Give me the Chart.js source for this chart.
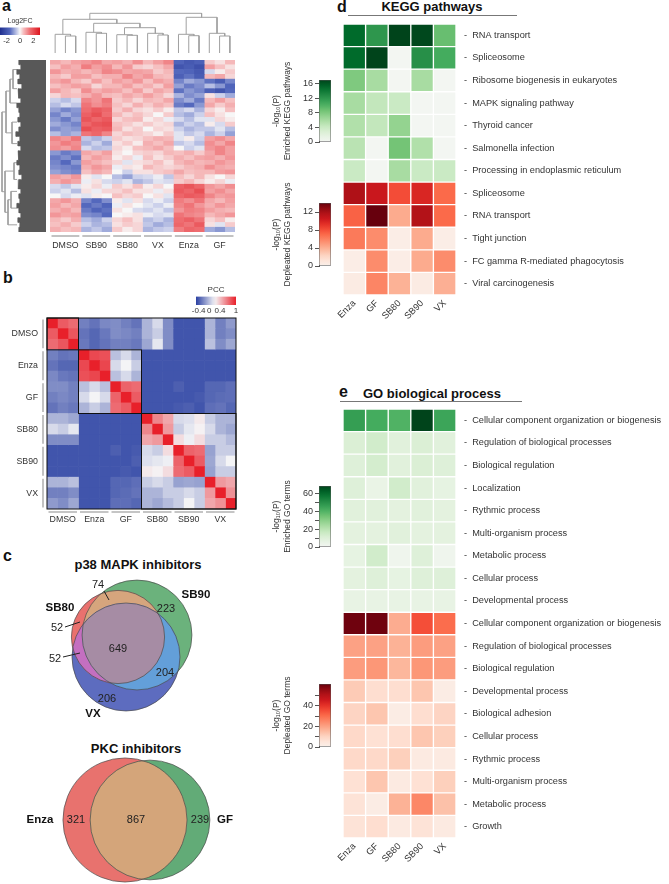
<!DOCTYPE html>
<html>
<head>
<meta charset="utf-8">
<title>Kinase inhibitor transcriptome panels</title>
<script src="https://cdn.jsdelivr.net/npm/chart.js@4.4.0/dist/chart.umd.min.js"></script>
<style>
  body { margin: 0; background: #fff; }
  #page { position: relative; width: 669px; height: 884px; overflow: hidden; font-family: "Liberation Sans", Arial, sans-serif; color: #111; }
  .tag { position: absolute; font-size: 16px; line-height: 16px; font-weight: bold; }
  .head { position: absolute; width: 220px; text-align: center; font-size: 13px; line-height: 13px; font-weight: bold; white-space: nowrap; }
  .rule { position: absolute; height: 0; border-top: 1.5px solid #777; }
</style>
</head>
<body>
<div id="page">
  <div class="tag" style="left:2px;top:-2px">a</div>
  <div class="tag" style="left:3px;top:270px">b</div>
  <div class="tag" style="left:3px;top:548px">c</div>
  <div class="tag" style="left:337px;top:-1px">d</div>
  <div class="tag" style="left:339px;top:384px">e</div>
  <div class="head" style="left:322px;top:0px">KEGG pathways</div>
  <div class="rule" style="left:348px;top:15px;width:169px"></div>
  <div class="head" style="left:322px;top:387px">GO biological process</div>
  <div class="rule" style="left:340px;top:401px;width:182px"></div>
  <div class="head" style="left:28px;top:558px">p38 MAPK inhibitors</div>
  <div class="head" style="left:26px;top:742px">PKC inhibitors</div>
</div>
<script>
// ---------- data ----------
const groupsA = ['DMSO', 'SB90', 'SB80', 'VX', 'Enza', 'GF'];
// log2 fold change, one row per gene cluster, 3 replicates per group
const log2fc = [
  [0.8,0.6,0.9, 1.0,1.2,0.8, 0.9,0.7,1.1, 0.6,0.9,1.2, -1.6,-1.9,-1.7, 0.4,0.2,0.6],
  [0.5,0.9,0.7, 1.3,0.9,1.1, 0.6,1.0,0.4, 0.3,0.5,0.8, -2.0,-1.8,-2.1, 0.9,0.5,0.2],
  [1.0,0.7,0.8, 0.6,0.8,1.2, 1.1,0.8,0.9, 0.8,0.4,0.6, -1.5,-1.6,-1.9, -0.3,0.1,0.4],
  [0.6,0.4,0.9, 0.9,0.5,0.7, 0.7,1.2,0.8, 1.0,0.6,0.5, -1.7,-1.4,-1.8, 0.6,0.8,0.3],
  [0.8,1.0,0.6, 0.4,0.9,0.5, 0.9,0.7,1.0, 0.5,0.9,0.7, -1.2,-0.8,-1.0, -1.4,-1.8,-1.2],
  [0.5,0.7,0.9, 0.8,0.3,0.6, 0.6,0.9,0.5, 0.7,0.4,0.9, -0.9,-1.3,-1.1, -0.6,-1.0,-1.6],
  [0.9,0.6,0.4, 1.1,0.7,0.9, 0.8,0.5,0.9, 0.4,0.8,0.6, -1.4,-1.0,-1.2, -1.7,-2.0,-1.5],
  [0.3,0.6,0.5, 0.7,1.0,0.6, 0.5,0.8,0.6, 0.9,0.6,0.3, -0.7,-1.1,-0.9, 0.2,-0.4,-0.8],
  [-0.4,-0.6,-0.3, 1.2,1.0,1.4, 0.4,0.6,0.3, 0.6,0.5,0.8, -1.1,-0.8,-1.3, 0.6,0.9,0.5],
  [-0.6,-0.3,-0.5, 1.4,1.1,1.3, 0.5,0.3,0.7, 0.4,0.7,0.5, -1.3,-1.5,-1.0, 0.8,0.4,0.7],
  [-0.9,-1.2,-1.0, 1.5,1.8,1.6, 0.4,0.7,0.3, 0.2,0.4,0.1, -0.5,-0.3,-0.7, 0.3,0.1,0.5],
  [-1.2,-0.8,-1.1, 1.7,2.0,1.5, 0.6,0.3,0.5, 0.3,0.0,0.4, -0.6,-0.8,-0.4, 0.5,0.2,0.0],
  [-1.0,-1.3,-0.9, 1.9,1.6,1.8, 0.3,0.5,0.6, 0.1,0.3,-0.1, -0.3,-0.6,-0.2, -0.2,0.3,0.1],
  [-0.8,-1.0,-1.2, 1.6,1.9,2.0, 0.5,0.4,0.2, 0.4,0.2,0.3, -0.7,-0.4,-0.6, 0.1,-0.3,0.4],
  [-1.1,-0.9,-1.0, 2.0,1.7,1.8, 0.6,0.2,0.4, 0.0,0.3,0.2, -0.4,-0.7,-0.5, -0.5,-0.2,-0.6],
  [-0.6,-0.9,-0.7, 1.4,1.6,1.2, 0.3,0.5,0.4, 0.3,0.1,0.4, -0.2,-0.5,-0.3, -0.7,-0.4,-0.9],
  [1.2,1.0,1.4, -0.5,-0.7,-0.4, 0.4,0.2,0.3, 0.5,0.7,0.6, -0.2,0.1,-0.4, 0.9,1.1,0.8],
  [1.0,1.3,1.1, -0.7,-0.4,-0.8, 0.2,0.4,0.1, 0.7,0.5,0.8, -0.5,-0.3,-0.6, 1.1,0.8,1.2],
  [1.1,0.9,1.2, -0.3,-0.6,-0.5, 0.3,0.1,0.5, 0.6,0.8,0.5, 0.0,-0.4,-0.2, 1.0,1.2,0.9],
  [-1.0,-1.3,-1.1, 0.8,0.6,0.9, 0.2,0.0,0.3, 0.4,0.3,0.6, 0.5,0.7,0.4, 0.8,1.2,0.9],
  [-1.3,-1.1,-1.4, 0.6,0.9,0.7, 0.1,0.3,-0.1, 0.5,0.2,0.4, 0.7,0.5,0.8, 0.9,0.7,1.0],
  [-1.2,-1.5,-1.0, 0.9,0.7,0.5, 0.3,-0.2,0.2, 0.3,0.5,0.2, 0.6,0.8,0.6, 0.7,1.0,0.8],
  [-1.1,-1.2,-1.3, 0.7,1.0,0.8, -0.1,0.2,0.1, 0.6,0.4,0.3, 0.4,0.6,0.7, 1.1,0.8,0.7],
  [-0.9,-1.1,-1.2, 0.5,0.8,0.6, 0.0,-0.4,0.2, 0.2,0.4,0.5, 0.8,0.5,0.6, 0.6,0.9,1.0],
  [0.9,0.7,1.0, 0.1,-0.2,0.0, -0.6,-0.9,-0.4, -0.3,-0.1,-0.5, 0.5,0.3,0.6, 0.2,0.0,0.3],
  [0.7,1.0,0.8, -0.1,0.2,-0.3, -0.4,-0.2,-0.7, -0.5,-0.2,-0.3, 0.4,0.6,0.3, 0.1,0.3,-0.1],
  [-0.3,-0.5,-0.2, 0.1,0.3,-0.1, 0.4,0.2,0.5, 0.1,0.3,0.0, 1.7,1.9,1.6, 1.0,0.8,1.1],
  [-0.4,-0.2,-0.6, 0.2,-0.1,0.3, 0.3,0.5,0.2, 0.2,-0.1,0.2, 1.8,1.6,2.0, 0.9,1.1,0.8],
  [0.0,-0.3,-0.1, -0.2,0.1,0.0, 0.5,0.3,0.4, 0.0,0.2,-0.2, 1.6,1.8,1.7, 1.2,0.9,1.0],
  [0.8,1.0,0.7, -1.2,-1.5,-1.1, 0.1,-0.2,0.2, -0.3,-0.1,-0.4, 1.3,1.1,1.4, 0.8,0.6,0.9],
  [0.9,0.6,0.8, -1.5,-1.3,-1.6, -0.1,0.2,0.0, -0.2,-0.4,-0.1, 1.2,1.4,1.0, 0.7,1.0,0.8],
  [0.7,0.9,0.6, -1.3,-1.6,-1.4, 0.2,0.0,-0.3, -0.4,-0.2,-0.5, 1.0,1.3,1.2, 0.9,0.7,0.6],
  [1.0,0.8,0.9, -1.1,-1.2,-1.5, 0.0,0.1,0.2, -0.1,-0.3,-0.2, 1.4,1.2,1.1, 0.6,0.8,1.0],
  [0.6,0.4,0.7, -0.6,-0.8,-0.4, 0.3,0.5,0.2, -0.6,-0.4,-0.7, 1.5,1.7,1.4, 0.3,0.5,0.1],
  [0.5,0.7,0.4, -0.4,-0.7,-0.6, 0.2,0.4,0.3, -0.5,-0.8,-0.6, 1.6,1.4,1.8, 0.2,-0.2,0.4],
  [0.7,0.5,0.6, -0.7,-0.5,-0.8, 0.4,0.1,0.3, -0.7,-0.5,-0.4, 1.3,1.6,1.5, -0.8,-1.0,-0.6]
];
// column tree: [childA, childB, height]; leaves 0..17, new clusters from 18
const colLinkage = [
  [1, 2, 17], [0, 18, 18.7], [4, 5, 19.7], [3, 20, 20.7], [7, 8, 17.7], [6, 22, 18.3],
  [10, 11, 18], [9, 24, 19.7], [23, 25, 25.3], [21, 26, 29.7], [19, 27, 33.7],
  [13, 14, 17.3], [12, 29, 18.7], [16, 17, 17], [15, 31, 19.7], [30, 32, 35.7], [28, 33, 39.7]
];
// row tree: dense lower part per row, then clusters of row blocks
const rowEdge = [27,25,29,26,28,24,28,27,25,29,27,26,28,25,27,30,26,28,25,28,27,29,26,27,24,27,28,25,27,26,29,27,25,28,26,27];
const rowSections = [[0,4],[4,8],[8,10],[10,16],[16,19],[19,24],[24,26],[26,29],[29,33],[33,36]];
const rowLinkage = [
  [0, 1, 33], [10, 2, 36], [3, 4, 34], [11, 12, 40], [5, 6, 32],
  [7, 8, 35], [15, 9, 38], [14, 16, 41], [13, 17, 44]
];

const groupsB = ['DMSO', 'Enza', 'GF', 'SB80', 'SB90', 'VX'];
const pcc = [
  [1.00,0.78,0.72,-0.25,-0.30,-0.22,-0.20,-0.25,-0.30,-0.05,0.10,-0.20,-0.42,-0.42,-0.42,-0.05,-0.25,-0.15],
  [0.78,1.00,0.80,-0.30,-0.35,-0.28,-0.20,-0.22,-0.25,-0.05,0.05,-0.20,-0.42,-0.42,-0.42,-0.05,-0.25,-0.20],
  [0.72,0.80,1.00,-0.28,-0.35,-0.30,-0.25,-0.25,-0.28,-0.10,0.15,-0.20,-0.42,-0.42,-0.42,0.00,-0.20,-0.10],
  [-0.25,-0.30,-0.28,1.00,0.85,0.82,0.00,0.10,-0.05,-0.42,-0.42,-0.42,-0.42,-0.42,-0.42,-0.42,-0.42,-0.42],
  [-0.30,-0.35,-0.35,0.85,1.00,0.86,0.10,0.20,0.05,-0.42,-0.42,-0.42,-0.42,-0.42,-0.42,-0.42,-0.42,-0.42],
  [-0.22,-0.28,-0.30,0.82,0.86,1.00,0.00,0.10,-0.05,-0.42,-0.42,-0.42,-0.42,-0.42,-0.42,-0.42,-0.42,-0.42],
  [-0.20,-0.20,-0.25,0.00,0.10,0.00,1.00,0.75,0.72,-0.42,-0.42,-0.42,-0.38,-0.42,-0.42,-0.35,-0.35,-0.32],
  [-0.25,-0.22,-0.25,0.10,0.20,0.10,0.75,1.00,0.78,-0.42,-0.42,-0.42,-0.42,-0.42,-0.40,-0.35,-0.33,-0.32],
  [-0.30,-0.25,-0.28,-0.05,0.05,-0.05,0.72,0.78,1.00,-0.42,-0.42,-0.42,-0.40,-0.38,-0.42,-0.32,-0.30,-0.35],
  [-0.05,-0.05,-0.10,-0.42,-0.42,-0.42,-0.42,-0.42,-0.42,1.00,0.62,0.50,0.10,0.12,0.25,0.05,-0.05,-0.05],
  [0.10,0.05,0.15,-0.42,-0.42,-0.42,-0.42,-0.42,-0.42,0.62,1.00,0.55,0.05,0.15,0.22,0.10,-0.05,-0.10],
  [-0.20,-0.20,-0.20,-0.42,-0.42,-0.42,-0.42,-0.42,-0.42,0.50,0.55,1.00,0.30,0.18,0.30,0.05,0.05,-0.02],
  [-0.42,-0.42,-0.42,-0.42,-0.42,-0.42,-0.38,-0.42,-0.40,0.10,0.05,0.30,1.00,0.75,0.72,-0.12,0.05,0.05],
  [-0.42,-0.42,-0.42,-0.42,-0.42,-0.42,-0.42,-0.42,-0.38,0.12,0.15,0.18,0.75,1.00,0.78,-0.10,0.10,0.20],
  [-0.42,-0.42,-0.42,-0.42,-0.42,-0.42,-0.42,-0.40,-0.42,0.25,0.22,0.30,0.72,0.78,1.00,-0.12,0.05,0.05],
  [-0.05,-0.05,0.00,-0.42,-0.42,-0.42,-0.35,-0.35,-0.32,0.05,0.10,0.05,-0.12,-0.10,-0.12,1.00,0.55,0.50],
  [-0.25,-0.25,-0.20,-0.42,-0.42,-0.42,-0.35,-0.33,-0.30,-0.05,-0.05,0.05,0.05,0.10,0.05,0.55,1.00,0.58],
  [-0.15,-0.20,-0.10,-0.42,-0.42,-0.42,-0.32,-0.32,-0.35,-0.05,-0.10,-0.02,0.05,0.20,0.05,0.50,0.58,1.00]
];

const p38Sets = ['SB80', 'SB90', 'VX'];
const p38Regions = ['SB80', 'SB80&SB90', 'SB90', 'SB80&VX', 'SB80&SB90&VX', 'SB90&VX', 'VX'];
const p38Counts = [52, 74, 223, 52, 649, 204, 206];
const pkcSets = ['Enza', 'GF'];
const pkcRegions = ['Enza', 'Enza&GF', 'GF'];
const pkcCounts = [321, 867, 239];

const drugs = ['Enza', 'GF', 'SB80', 'SB90', 'VX'];
const keggUpTerms = ['RNA transport', 'Spliceosome', 'Ribosome biogenesis in eukaryotes', 'MAPK signaling pathway',
  'Thyroid cancer', 'Salmonella infection', 'Processing in endoplasmic reticulum'];
const keggUpP = [
  [15, 12, 17, 16.8, 9], [15, 17, 0, 12.5, 10.5], [8, 6, 0, 6, 0], [6, 4.5, 4, 0, 0],
  [5.5, 4.5, 7, 0, 0], [5, 0, 8.5, 5.5, 0], [4, 0, 6, 4, 4]
];
const keggDownTerms = ['Spliceosome', 'RNA transport', 'Tight junction', 'FC gamma R-mediated phagocytosis', 'Viral carcinogenesis'];
const keggDownP = [
  [11.8, 10.6, 8.1, 9.8, 7], [7.3, 14, 4.2, 11.6, 7], [6.3, 5.5, 0.3, 4.2, 0.3],
  [0.3, 5.5, 0.3, 4.2, 5.5], [0.5, 5.8, 3.9, 0.5, 4]
];
const goUpTerms = ['Cellular component organization or biogenesis', 'Regulation of biological processes', 'Biological regulation',
  'Localization', 'Rythmic process', 'Multi-organism process', 'Metabolic process', 'Cellular process', 'Developmental process'];
const goUpP = [
  [46, 42, 40, 68, 44], [11, 14, 9, 11, 9], [10, 13, 9, 11, 10], [10, 5, 14, 9, 7], [9, 9, 8, 9, 8],
  [8, 8, 9, 8, 8], [7, 14, 2, 10, 2], [8, 10, 7, 10, 10], [6, 6, 6, 6, 6]
];
const goDownTerms = ['Cellular component organization or biogenesis', 'Regulation of biological processes', 'Biological regulation',
  'Developmental process', 'Biological adhesion', 'Cellular process', 'Rythmic process', 'Multi-organism process',
  'Metabolic process', 'Growth'];
const goDownP = [
  [60, 60, 18, 35, 30], [20, 20, 17, 21, 20], [21, 22, 16, 22, 21], [12, 8, 8, 13, 2], [10, 13, 2, 8, 10],
  [9, 7, 8, 13, 11], [9, 9, 11, 3, 3], [7, 13, 3, 7, 11], [6, 2, 17, 25, 14], [6, 8, 3, 6, 3]
];

// ---------- helpers ----------
Chart.defaults.font.family = '"Liberation Sans", Arial, Helvetica, sans-serif';
Chart.defaults.color = '#333';
Chart.defaults.animation = false;
Chart.defaults.events = [];
Chart.defaults.plugins.legend.display = false;
Chart.defaults.plugins.tooltip.enabled = false;

const page = document.getElementById('page');
function place(left, top, w, h) {
  const c = document.createElement('canvas');
  c.width = w;
  c.height = h;
  c.style.cssText = `position:absolute;left:${left}px;top:${top}px;width:${w}px;height:${h}px`;
  page.appendChild(c);
  return c;
}
// fix an axis thickness and drop the label overhang padding
const fixed = (key, size) => s => {
  s[key] = size;
  s.paddingTop = s.paddingBottom = s.paddingLeft = s.paddingRight = 0;
};
const noGrid = { display: false, drawTicks: false };

const hex = h => [1, 3, 5].map(i => parseInt(h.slice(i, i + 2), 16));
function ramp(stops) {
  const s = stops.map(([t, h]) => [t, hex(h)]);
  return t => {
    t = Math.min(1, Math.max(0, t));
    let i = 1;
    while (i < s.length - 1 && t > s[i][0]) i++;
    const [t0, c0] = s[i - 1], [t1, c1] = s[i];
    const f = (t - t0) / (t1 - t0);
    return 'rgb(' + c0.map((c, k) => Math.round(c + (c1[k] - c) * f)).join(',') + ')';
  };
}
const even = cols => cols.map((c, i) => [i / (cols.length - 1), c]);
const greens = ramp(even(['#f3f6f2', '#e3f2de', '#c7e9c0', '#a1d99b', '#74c476', '#41ab5d', '#238b45', '#006d2c', '#00441b']));
const reds = ramp(even(['#faf0ea', '#fee0d2', '#fcbba1', '#fc9272', '#fb6a4a', '#ef3b2c', '#cb181d', '#a50f15', '#67000d']));
const fcMap = ramp([[0, '#1f2f8f'], [0.25, '#5468bd'], [0.42, '#c3c9e8'], [0.5, '#f7f7f7'],
  [0.58, '#f6c2c3'], [0.75, '#ee6c70'], [1, '#dd141d']]);
const pccMap = ramp([[0, '#2a40a2'], [0.47, '#f5f5f7'], [1, '#e8202a']]);

function gradientFill(fn, dir) {
  return ctx => {
    const a = ctx.chart.chartArea;
    if (!a) return 'transparent';
    const g = dir === 'x'
      ? ctx.chart.ctx.createLinearGradient(a.left, 0, a.right, 0)
      : ctx.chart.ctx.createLinearGradient(0, a.bottom, 0, a.top);
    for (let i = 0; i <= 12; i++) g.addColorStop(i / 12, fn(i / 12));
    return g;
  };
}

// one floating-bar dataset per column, one bar per row
function cellSets(rows, colorOf, border) {
  return rows[0].map((_, j) => ({
    data: rows.map(() => [j, j + 1]),
    backgroundColor: rows.map((r, i) => colorOf(r[j], i)),
    borderColor: 'rgba(255,255,255,0.45)',
    borderWidth: border || 0,
    borderSkipped: false,
    grouped: false,
    barPercentage: 1,
    categoryPercentage: 1
  }));
}

function dendro(linkage, leafPos, leafH) {
  const pos = leafPos.slice();
  const hgt = leafPos.map(() => leafH);
  return linkage.map(([a, b, h]) => {
    const seg = [[pos[a], hgt[a]], [pos[a], h], [pos[b], h], [pos[b], hgt[b]]];
    pos.push((pos[a] + pos[b]) / 2);
    hgt.push(h);
    return seg;
  });
}

const framePlugin = {
  id: 'frames',
  afterDatasetsDraw(chart, args, o) {
    const { ctx, chartArea: a, scales: { x, y } } = chart;
    const xe = k => x.getPixelForValue(k);
    const ye = k => y.getPixelForValue(k - 0.5);
    ctx.save();
    ctx.strokeStyle = '#b3b3b3';
    ctx.lineWidth = 1.6;
    for (let g = 0; g < o.n; g += 3) {
      ctx.beginPath();
      if (o.under) {
        ctx.moveTo(xe(g) + 1.5, a.bottom + o.under);
        ctx.lineTo(xe(g + 3) - 1.5, a.bottom + o.under);
      }
      if (o.side) {
        ctx.moveTo(a.left - o.side, ye(g) + 1.5);
        ctx.lineTo(a.left - o.side, ye(g + 3) - 1.5);
      }
      ctx.stroke();
    }
    if (o.blocks) {
      ctx.strokeStyle = '#111';
      ctx.lineWidth = 1;
      o.blocks.forEach(([s, e]) => ctx.strokeRect(xe(s), ye(s), xe(e) - xe(s), ye(e) - ye(s)));
    }
    ctx.restore();
  }
};

const vennPlugin = {
  id: 'venn',
  beforeDatasetsDraw(chart, args, o) {
    const ctx = chart.ctx;
    const circ = chart.data.datasets.map((ds, i) => {
      const el = chart.getDatasetMeta(i).data[0];
      return { x: el.x, y: el.y, r: ds.data[0].r };
    });
    const path = c => { ctx.beginPath(); ctx.arc(c.x, c.y, c.r, 0, Math.PI * 2); };
    o.fills.forEach(f => {
      ctx.save();
      f.clip.forEach(k => { path(circ[k]); ctx.clip(); });
      path(circ[f.fill]);
      ctx.fillStyle = f.color;
      ctx.fill();
      ctx.restore();
    });
  },
  afterDatasetsDraw(chart, args, o) {
    const { ctx, scales: { x, y } } = chart;
    ctx.save();
    ctx.textAlign = 'center';
    ctx.textBaseline = 'middle';
    ctx.fillStyle = '#222';
    ctx.strokeStyle = '#222';
    ctx.lineWidth = 1;
    o.leaders.forEach(([x1, y1, x2, y2]) => {
      ctx.beginPath();
      ctx.moveTo(x.getPixelForValue(x1), y.getPixelForValue(y1));
      ctx.lineTo(x.getPixelForValue(x2), y.getPixelForValue(y2));
      ctx.stroke();
    });
    ctx.font = '11px "Liberation Sans", Arial, sans-serif';
    o.counts.forEach((c, i) => ctx.fillText(String(c), x.getPixelForValue(o.countPos[i][0]), y.getPixelForValue(o.countPos[i][1])));
    ctx.font = 'bold 11.5px "Liberation Sans", Arial, sans-serif';
    ctx.fillStyle = '#111';
    o.names.forEach((n, i) => ctx.fillText(n, x.getPixelForValue(o.namePos[i][0]), y.getPixelForValue(o.namePos[i][1])));
    ctx.restore();
  }
};

// ---------- a: log2FC heatmap ----------
new Chart(place(46, 56, 194, 199), {
  type: 'bar',
  data: { labels: log2fc.map((_, i) => i), datasets: cellSets(log2fc, v => fcMap((v + 3) / 6)) },
  options: {
    responsive: false,
    indexAxis: 'y',
    layout: { padding: { left: 4, right: 5, top: 4 } },
    scales: {
      y: { type: 'category', display: false },
      x: {
        type: 'linear', min: 0, max: 18,
        grid: noGrid, border: { display: false },
        afterBuildTicks: s => { s.ticks = groupsA.map((_, g) => ({ value: g * 3 + 1.5 })); },
        ticks: { autoSkip: false, maxRotation: 0, padding: 8, font: { size: 8.8 }, callback: v => groupsA[Math.floor(v / 3)] },
        afterFit: fixed('height', 23)
      }
    },
    plugins: { frames: { n: 18, under: 4 } }
  },
  plugins: [framePlugin]
});

// column dendrogram
const colSegs = dendro(colLinkage, log2fc[0].map((_, j) => j + 0.5), 0);
new Chart(place(50, 9, 185, 44), {
  type: 'scatter',
  data: {
    datasets: colSegs.map(seg => ({
      data: seg.map(([p, h]) => ({ x: p, y: h })),
      showLine: true, pointRadius: 0, borderColor: '#a0a0a0', borderWidth: 1, clip: false
    }))
  },
  options: {
    responsive: false,
    scales: { x: { display: false, min: 0, max: 18 }, y: { display: false, min: 0, max: 44 } }
  }
});

// row dendrogram
const rowSegs = dendro(rowLinkage, rowSections.map(([s, e]) => (s + e) / 2), 29);
const edgeShape = [{ x: 0, y: 0 }];
rowEdge.forEach((h, i) => edgeShape.push({ x: h, y: i }, { x: h, y: i + 1 }));
edgeShape.push({ x: 0, y: rowEdge.length });
new Chart(place(0, 60, 46, 172), {
  type: 'scatter',
  data: {
    datasets: [
      { data: edgeShape, showLine: true, fill: 'shape', backgroundColor: '#585858', borderColor: '#585858',
        borderWidth: 0.5, pointRadius: 0, clip: false },
      ...rowSegs.map(seg => ({
        data: seg.map(([p, h]) => ({ x: h, y: p })),
        showLine: true, pointRadius: 0, borderColor: '#a0a0a0', borderWidth: 1, clip: false
      }))
    ]
  },
  options: {
    responsive: false,
    scales: {
      x: { display: false, min: 0, max: 46, reverse: true },
      y: { display: false, min: 0, max: 36, reverse: true }
    }
  }
});

// Log2FC colour bar
new Chart(place(0, 17, 44, 28), {
  type: 'bar',
  data: { labels: [''], datasets: [{ data: [[-3, 3]], backgroundColor: gradientFill(fcMap, 'x'), barPercentage: 1, categoryPercentage: 1 }] },
  options: {
    responsive: false,
    indexAxis: 'y',
    layout: { padding: { right: 4 } },
    plugins: { title: { display: true, text: 'Log2FC', font: { size: 7, weight: 'normal' }, padding: { top: 0, bottom: 2 }, color: '#333' } },
    scales: {
      y: { display: false },
      x: {
        min: -3, max: 3, grid: noGrid, border: { display: false },
        afterBuildTicks: s => { s.ticks = [-2, 0, 2].map(v => ({ value: v })); },
        ticks: { font: { size: 7.5 }, padding: 1, autoSkip: false, maxRotation: 0 },
        afterFit: fixed('height', 10)
      }
    }
  }
});

// ---------- b: correlation matrix ----------
new Chart(place(0, 312, 240, 218), {
  type: 'bar',
  data: { labels: pcc.map((_, i) => i), datasets: cellSets(pcc, v => pccMap((v + 0.5) / 1.5)) },
  options: {
    responsive: false,
    indexAxis: 'y',
    layout: { padding: { top: 6, right: 4 } },
    scales: {
      y: {
        type: 'category', grid: noGrid, border: { display: false },
        ticks: { autoSkip: false, padding: 9, font: { size: 8.8 }, callback: (v, i) => i % 3 === 1 ? groupsB[(i - 1) / 3] : '' },
        afterFit: fixed('width', 47)
      },
      x: {
        type: 'linear', min: 0, max: 18, grid: noGrid, border: { display: false },
        afterBuildTicks: s => { s.ticks = groupsB.map((_, g) => ({ value: g * 3 + 1.5 })); },
        ticks: { autoSkip: false, maxRotation: 0, padding: 5, font: { size: 8.8 }, callback: v => groupsB[Math.floor(v / 3)] },
        afterFit: fixed('height', 21)
      }
    },
    plugins: { frames: { n: 18, under: 3, side: 4, blocks: [[0, 3], [3, 9], [9, 18], [0, 18]] } }
  },
  plugins: [framePlugin]
});

// PCC colour bar
new Chart(place(190, 285, 52, 30), {
  type: 'bar',
  data: { labels: [''], datasets: [{ data: [[-0.5, 1]], backgroundColor: gradientFill(pccMap, 'x'), barPercentage: 1, categoryPercentage: 1 }] },
  options: {
    responsive: false,
    indexAxis: 'y',
    layout: { padding: { left: 6, right: 6 } },
    plugins: { title: { display: true, text: 'PCC', font: { size: 8, weight: 'normal' }, padding: { top: 0, bottom: 2 }, color: '#333' } },
    scales: {
      y: { display: false },
      x: {
        min: -0.5, max: 1, grid: noGrid, border: { display: false },
        afterBuildTicks: s => { s.ticks = [-0.4, 0, 0.4, 1].map(v => ({ value: v })); },
        ticks: { font: { size: 8 }, padding: 1, autoSkip: false, maxRotation: 0, callback: v => String(v) },
        afterFit: fixed('height', 10)
      }
    }
  }
});

// ---------- c: Venn diagrams ----------
function venn(left, top, w, h, sets, regions, counts, centers, k, colors, fills, countPos, namePos, leaders) {
  const totals = sets.map(s => counts.reduce((sum, c, i) => regions[i].split('&').includes(s) ? sum + c : sum, 0));
  new Chart(place(left, top, w, h), {
    type: 'bubble',
    data: {
      datasets: sets.map((s, i) => ({
        label: s,
        data: [{ x: centers[i][0], y: centers[i][1], r: k * Math.sqrt(totals[i]) }],
        backgroundColor: 'rgba(0,0,0,0)', borderColor: '#4a4a4a', borderWidth: 0.7, clip: false
      }))
    },
    options: {
      responsive: false,
      layout: { autoPadding: false, padding: 0 },
      scales: { x: { display: false, min: 0, max: w }, y: { display: false, min: 0, max: h, reverse: true } },
      plugins: { venn: { fills: fills.map(f => ({ clip: f[0], fill: f[1], color: colors[f[2]] })), counts, countPos, names: sets, namePos, leaders } }
    },
    plugins: [vennPlugin]
  });
}

venn(0, 572, 240, 150, p38Sets, p38Regions, p38Counts,
  [[118, 65], [137, 63], [126, 85]], 1.62,
  ['#e9716e', '#6bb27c', '#5d6cbf', '#d6a57d', '#c46fc0', '#639fd9', '#a68ca4'],
  [[[], 1, 1], [[], 2, 2], [[], 0, 0], [[0], 1, 3], [[0], 2, 4], [[1], 2, 5], [[0, 1], 2, 6]],
  [[57, 56], [98, 13], [166, 37], [55, 87], [118, 77], [165, 101], [107, 127]],
  [[60, 36], [196, 23], [93, 142]],
  [[65, 55, 80, 50], [104, 19, 109, 28], [63, 85, 80, 81]]);

venn(0, 740, 240, 144, pkcSets, pkcRegions, pkcCounts,
  [[125, 80], [150, 80]], 1.8,
  ['#e8726e', '#62ab77', '#d4a57a'],
  [[[], 0, 0], [[], 1, 1], [[0], 1, 2]],
  [[76, 80], [136, 80], [200, 80]],
  [[40, 80], [225, 80]],
  []);

// ---------- d / e: enrichment heatmaps ----------
function termMap(left, top, w, h, pad, terms, upRows, downRows, upMax, downMax, xh) {
  const rows = upRows.concat(downRows);
  new Chart(place(left, top, w, h), {
    type: 'bar',
    data: {
      labels: terms,
      datasets: cellSets(rows, (v, i) => i < upRows.length ? greens(v / upMax) : reds(v / downMax), 1)
    },
    options: {
      responsive: false,
      indexAxis: 'y',
      layout: { padding: { left: 7, top: pad } },
      scales: {
        y: {
          type: 'category', position: 'right', grid: noGrid, border: { display: false },
          ticks: { autoSkip: false, padding: 8, font: { size: 9.2 }, color: '#333', callback: (v, i) => '-  ' + terms[i] },
          afterFit: fixed('width', 669 - 456)
        },
        x: {
          type: 'linear', min: 0, max: drugs.length, grid: noGrid, border: { display: false },
          afterBuildTicks: s => { s.ticks = drugs.map((_, j) => ({ value: j + 0.5 })); },
          ticks: { autoSkip: false, minRotation: 45, maxRotation: 45, padding: 3, font: { size: 9.2 }, callback: v => drugs[Math.round(v - 0.5)] },
          afterFit: fixed('height', xh)
        }
      }
    }
  });
}
termMap(336, 18, 333, 320, 6, keggUpTerms.concat(keggDownTerms), keggUpP, keggDownP, 17, 14, 43);
termMap(336, 402, 333, 478, 7, goUpTerms.concat(goDownTerms), goUpP, goDownP, 68, 61, 42);

// colour bars for d / e
function vbar(barTop, barH, fn, max, tickVals, labelVals, title) {
  const left = 272;
  new Chart(place(left, barTop - 45, 334 - left, barH + 90), {
    type: 'bar',
    data: { labels: [''], datasets: [{ data: [[0, max]], backgroundColor: gradientFill(fn, 'y'), borderColor: '#555', borderWidth: 0.8, borderSkipped: false, barPercentage: 1, categoryPercentage: 1 }] },
    options: {
      responsive: false,
      layout: { padding: { top: 45, bottom: 45, right: 3 } },
      scales: {
        x: { display: false },
        y: {
          min: 0, max, position: 'left',
          grid: { drawOnChartArea: false, tickLength: 4, color: '#555' },
          border: { color: '#555' },
          afterBuildTicks: s => { s.ticks = tickVals.map(v => ({ value: v })); },
          ticks: { autoSkip: false, padding: 2, font: { size: 9 }, callback: v => labelVals.includes(v) ? String(v) : '' },
          title: { display: true, text: title, font: { size: 8.5 }, padding: 0, color: '#333' },
          afterFit: fixed('width', 319 - left)
        }
      }
    }
  });
}
vbar(80, 62, greens, 17, [0, 4, 8, 12, 16], [0, 4, 8, 12, 16], ['-log\u2081\u2080(P)', 'Enriched KEGG pathways']);
vbar(203, 63, reds, 14, [0, 4, 8, 12], [0, 4, 8, 12], ['-log\u2081\u2080(P)', 'Depleated KEGG pathways']);
vbar(486, 61, greens, 68, [0, 10, 20, 30, 40, 50, 60], [0, 20, 40, 60], ['-log\u2081\u2080(P)', 'Enriched GO terms']);
vbar(684, 63, reds, 61, [0, 10, 20, 30, 40, 50], [0, 20, 40], ['-log\u2081\u2080(P)', 'Depleated GO terms']);
</script>
</body>
</html>
